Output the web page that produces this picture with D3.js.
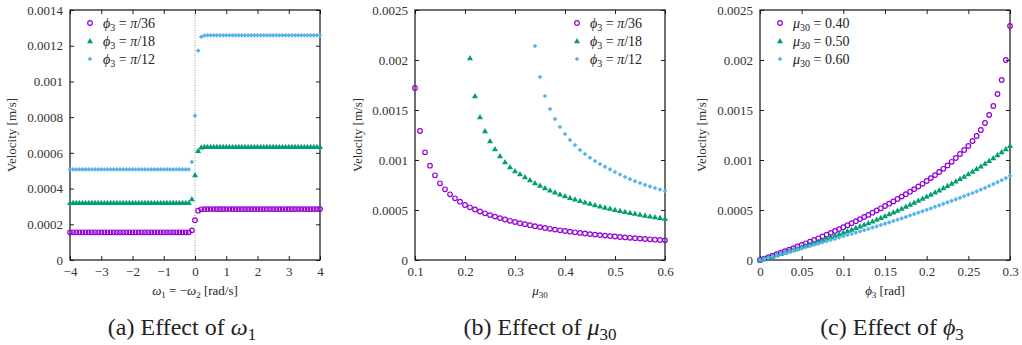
<!DOCTYPE html>
<html>
<head>
<meta charset="utf-8">
<script src="https://cdn.jsdelivr.net/npm/d3@7"></script>
<style>
  body { margin: 0; background: #fff; }
</style>
</head>
<body>
<svg id="chart" width="1022" height="345"></svg>
<script>
// ---- panel (a): effect of omega_1 ----
const omegaA = [
  -4, -3.9, -3.8, -3.7, -3.6, -3.5, -3.4, -3.3, -3.2, -3.1,
  -3, -2.9, -2.8, -2.7, -2.6, -2.5, -2.4, -2.3, -2.2, -2.1,
  -2, -1.9, -1.8, -1.7, -1.6, -1.5, -1.4, -1.3, -1.2, -1.1,
  -1, -0.9, -0.8, -0.7, -0.6, -0.5, -0.4, -0.3, -0.2, -0.1,
  0,
  0.1, 0.2, 0.3, 0.4, 0.5, 0.6, 0.7, 0.8, 0.9, 1,
  1.1, 1.2, 1.3, 1.4, 1.5, 1.6, 1.7, 1.8, 1.9, 2,
  2.1, 2.2, 2.3, 2.4, 2.5, 2.6, 2.7, 2.8, 2.9, 3,
  3.1, 3.2, 3.3, 3.4, 3.5, 3.6, 3.7, 3.8, 3.9, 4
];
const velA_pi36 = [
  1.55e-4, 1.55e-4, 1.55e-4, 1.55e-4, 1.55e-4, 1.55e-4, 1.55e-4, 1.55e-4, 1.55e-4, 1.55e-4,
  1.55e-4, 1.55e-4, 1.55e-4, 1.55e-4, 1.55e-4, 1.55e-4, 1.55e-4, 1.55e-4, 1.55e-4, 1.55e-4,
  1.55e-4, 1.55e-4, 1.55e-4, 1.55e-4, 1.55e-4, 1.55e-4, 1.55e-4, 1.55e-4, 1.55e-4, 1.55e-4,
  1.55e-4, 1.55e-4, 1.55e-4, 1.55e-4, 1.55e-4, 1.55e-4, 1.55e-4, 1.55e-4, 1.55e-4, 1.66e-4,
  2.23e-4,
  2.76e-4, 2.84e-4, 2.85e-4, 2.85e-4, 2.85e-4, 2.85e-4, 2.85e-4, 2.85e-4, 2.85e-4, 2.85e-4,
  2.85e-4, 2.85e-4, 2.85e-4, 2.85e-4, 2.85e-4, 2.85e-4, 2.85e-4, 2.85e-4, 2.85e-4, 2.85e-4,
  2.85e-4, 2.85e-4, 2.85e-4, 2.85e-4, 2.85e-4, 2.85e-4, 2.85e-4, 2.85e-4, 2.85e-4, 2.85e-4,
  2.85e-4, 2.85e-4, 2.85e-4, 2.85e-4, 2.85e-4, 2.85e-4, 2.85e-4, 2.85e-4, 2.85e-4, 2.85e-4
];
const velA_pi18 = [
  3.21e-4, 3.21e-4, 3.21e-4, 3.21e-4, 3.21e-4, 3.21e-4, 3.21e-4, 3.21e-4, 3.21e-4, 3.21e-4,
  3.21e-4, 3.21e-4, 3.21e-4, 3.21e-4, 3.21e-4, 3.21e-4, 3.21e-4, 3.21e-4, 3.21e-4, 3.21e-4,
  3.21e-4, 3.21e-4, 3.21e-4, 3.21e-4, 3.21e-4, 3.21e-4, 3.21e-4, 3.21e-4, 3.21e-4, 3.21e-4,
  3.21e-4, 3.21e-4, 3.21e-4, 3.21e-4, 3.21e-4, 3.21e-4, 3.21e-4, 3.21e-4, 3.21e-4, 3.42e-4,
  4.76e-4,
  6.12e-4, 6.32e-4, 6.34e-4, 6.34e-4, 6.34e-4, 6.34e-4, 6.34e-4, 6.34e-4, 6.34e-4, 6.34e-4,
  6.34e-4, 6.34e-4, 6.34e-4, 6.34e-4, 6.34e-4, 6.34e-4, 6.34e-4, 6.34e-4, 6.34e-4, 6.34e-4,
  6.34e-4, 6.34e-4, 6.34e-4, 6.34e-4, 6.34e-4, 6.34e-4, 6.34e-4, 6.34e-4, 6.34e-4, 6.34e-4,
  6.34e-4, 6.34e-4, 6.34e-4, 6.34e-4, 6.34e-4, 6.34e-4, 6.34e-4, 6.34e-4, 6.34e-4, 6.34e-4
];
const velA_pi12 = [
  5.07e-4, 5.07e-4, 5.07e-4, 5.07e-4, 5.07e-4, 5.07e-4, 5.07e-4, 5.07e-4, 5.07e-4, 5.07e-4,
  5.07e-4, 5.07e-4, 5.07e-4, 5.07e-4, 5.07e-4, 5.07e-4, 5.07e-4, 5.07e-4, 5.07e-4, 5.07e-4,
  5.07e-4, 5.07e-4, 5.07e-4, 5.07e-4, 5.07e-4, 5.07e-4, 5.07e-4, 5.07e-4, 5.07e-4, 5.07e-4,
  5.07e-4, 5.07e-4, 5.07e-4, 5.07e-4, 5.07e-4, 5.07e-4, 5.07e-4, 5.07e-4, 5.07e-4, 5.49e-4,
  8.08e-4,
  1.172e-3, 1.250e-3, 1.257e-3, 1.258e-3, 1.258e-3, 1.258e-3, 1.258e-3, 1.258e-3, 1.258e-3, 1.258e-3,
  1.258e-3, 1.258e-3, 1.258e-3, 1.258e-3, 1.258e-3, 1.258e-3, 1.258e-3, 1.258e-3, 1.258e-3, 1.258e-3,
  1.258e-3, 1.258e-3, 1.258e-3, 1.258e-3, 1.258e-3, 1.258e-3, 1.258e-3, 1.258e-3, 1.258e-3, 1.258e-3,
  1.258e-3, 1.258e-3, 1.258e-3, 1.258e-3, 1.258e-3, 1.258e-3, 1.258e-3, 1.258e-3, 1.258e-3, 1.258e-3
];

// ---- panel (b): effect of mu_30 ----
const muB = [
  0.10, 0.11, 0.12, 0.13, 0.14, 0.15, 0.16, 0.17, 0.18, 0.19,
  0.20, 0.21, 0.22, 0.23, 0.24, 0.25, 0.26, 0.27, 0.28, 0.29,
  0.30, 0.31, 0.32, 0.33, 0.34, 0.35, 0.36, 0.37, 0.38, 0.39,
  0.40, 0.41, 0.42, 0.43, 0.44, 0.45, 0.46, 0.47, 0.48, 0.49,
  0.50, 0.51, 0.52, 0.53, 0.54, 0.55, 0.56, 0.57, 0.58, 0.59,
  0.60
];
const velB_pi36 = [
  1.72e-3, 1.29e-3, 1.077e-3, 9.43e-4, 8.47e-4, 7.67e-4, 7.07e-4, 6.57e-4, 6.17e-4, 5.83e-4,
  5.50e-4, 5.27e-4, 5.05e-4, 4.85e-4, 4.67e-4, 4.49e-4, 4.34e-4, 4.19e-4, 4.05e-4, 3.92e-4,
  3.80e-4, 3.68e-4, 3.58e-4, 3.48e-4, 3.38e-4, 3.29e-4, 3.20e-4, 3.12e-4, 3.04e-4, 2.97e-4,
  2.90e-4, 2.83e-4, 2.77e-4, 2.71e-4, 2.65e-4, 2.59e-4, 2.54e-4, 2.49e-4, 2.44e-4, 2.39e-4,
  2.35e-4, 2.30e-4, 2.26e-4, 2.22e-4, 2.18e-4, 2.14e-4, 2.10e-4, 2.07e-4, 2.03e-4, 2.00e-4,
  1.97e-4
];
const velB_pi18 = [
  null, null, null, null, null, null, null, null, null, null,
  null, 2.02e-3, 1.64e-3, 1.43e-3, 1.29e-3, 1.19e-3, 1.11e-3, 1.04e-3, 9.8e-4, 9.3e-4,
  8.9e-4, 8.6e-4, 8.3e-4, 8.0e-4, 7.7e-4, 7.45e-4, 7.2e-4, 6.98e-4, 6.77e-4, 6.58e-4,
  6.4e-4, 6.23e-4, 6.07e-4, 5.92e-4, 5.78e-4, 5.64e-4, 5.51e-4, 5.38e-4, 5.26e-4, 5.14e-4,
  5.03e-4, 4.93e-4, 4.83e-4, 4.73e-4, 4.64e-4, 4.55e-4, 4.46e-4, 4.38e-4, 4.30e-4, 4.22e-4,
  4.14e-4
];
const velB_pi12 = [
  null, null, null, null, null, null, null, null, null, null,
  null, null, null, null, null, null, null, null, null, null,
  null, null, null, null, 2.14e-3, 1.83e-3, 1.64e-3, 1.51e-3, 1.41e-3, 1.33e-3,
  1.26e-3, 1.20e-3, 1.15e-3, 1.10e-3, 1.06e-3, 1.023e-3, 9.9e-4, 9.6e-4, 9.33e-4, 9.07e-4,
  8.8e-4, 8.55e-4, 8.3e-4, 8.08e-4, 7.88e-4, 7.7e-4, 7.52e-4, 7.36e-4, 7.2e-4, 7.05e-4,
  6.9e-4
];

// ---- panel (c): effect of phi_3 ----
const phiC = [
  0, 0.005, 0.01, 0.015, 0.02, 0.025, 0.03, 0.035, 0.04, 0.045,
  0.05, 0.055, 0.06, 0.065, 0.07, 0.075, 0.08, 0.085, 0.09, 0.095,
  0.1, 0.105, 0.11, 0.115, 0.12, 0.125, 0.13, 0.135, 0.14, 0.145,
  0.15, 0.155, 0.16, 0.165, 0.17, 0.175, 0.18, 0.185, 0.19, 0.195,
  0.2, 0.205, 0.21, 0.215, 0.22, 0.225, 0.23, 0.235, 0.24, 0.245,
  0.25, 0.255, 0.26, 0.265, 0.27, 0.275, 0.28, 0.285, 0.29, 0.295,
  0.3
];
const velC_mu40 = [
  0, 1.45e-5, 2.9e-5, 4.35e-5, 5.8e-5, 7.3e-5, 8.8e-5, 1.03e-4, 1.19e-4, 1.35e-4,
  1.51e-4, 1.67e-4, 1.83e-4, 2.0e-4, 2.17e-4, 2.35e-4, 2.53e-4, 2.71e-4, 2.9e-4, 3.09e-4,
  3.28e-4, 3.48e-4, 3.68e-4, 3.88e-4, 4.09e-4, 4.3e-4, 4.51e-4, 4.73e-4, 4.95e-4, 5.17e-4,
  5.4e-4, 5.63e-4, 5.86e-4, 6.1e-4, 6.34e-4, 6.58e-4, 6.83e-4, 7.09e-4, 7.35e-4, 7.62e-4,
  7.9e-4, 8.19e-4, 8.49e-4, 8.8e-4, 9.12e-4, 9.46e-4, 9.82e-4, 1.02e-3, 1.06e-3, 1.10e-3,
  1.14e-3, 1.19e-3, 1.24e-3, 1.30e-3, 1.37e-3, 1.45e-3, 1.54e-3, 1.66e-3, 1.80e-3, 2.00e-3,
  2.34e-3
];
const velC_mu50 = [
  0, 1.25e-5, 2.5e-5, 3.75e-5, 5.0e-5, 6.3e-5, 7.6e-5, 8.9e-5, 1.02e-4, 1.15e-4,
  1.29e-4, 1.43e-4, 1.57e-4, 1.71e-4, 1.85e-4, 2.0e-4, 2.15e-4, 2.3e-4, 2.45e-4, 2.6e-4,
  2.76e-4, 2.91e-4, 3.06e-4, 3.22e-4, 3.38e-4, 3.54e-4, 3.71e-4, 3.88e-4, 4.05e-4, 4.23e-4,
  4.41e-4, 4.59e-4, 4.77e-4, 4.96e-4, 5.15e-4, 5.34e-4, 5.54e-4, 5.74e-4, 5.94e-4, 6.15e-4,
  6.36e-4, 6.56e-4, 6.77e-4, 6.98e-4, 7.20e-4, 7.42e-4, 7.65e-4, 7.88e-4, 8.12e-4, 8.36e-4,
  8.61e-4, 8.86e-4, 9.12e-4, 9.38e-4, 9.65e-4, 9.93e-4, 1.021e-3, 1.050e-3, 1.080e-3, 1.111e-3,
  1.142e-3
];
const velC_mu60 = [
  0, 1.15e-5, 2.3e-5, 3.45e-5, 4.6e-5, 5.75e-5, 6.9e-5, 8.05e-5, 9.2e-5, 1.04e-4,
  1.16e-4, 1.28e-4, 1.40e-4, 1.52e-4, 1.64e-4, 1.76e-4, 1.88e-4, 2.00e-4, 2.12e-4, 2.25e-4,
  2.38e-4, 2.50e-4, 2.62e-4, 2.74e-4, 2.86e-4, 2.98e-4, 3.11e-4, 3.24e-4, 3.37e-4, 3.50e-4,
  3.63e-4, 3.76e-4, 3.89e-4, 4.03e-4, 4.17e-4, 4.31e-4, 4.45e-4, 4.59e-4, 4.73e-4, 4.87e-4,
  5.02e-4, 5.17e-4, 5.32e-4, 5.47e-4, 5.62e-4, 5.77e-4, 5.92e-4, 6.07e-4, 6.22e-4, 6.38e-4,
  6.54e-4, 6.70e-4, 6.87e-4, 7.04e-4, 7.22e-4, 7.40e-4, 7.59e-4, 7.78e-4, 7.98e-4, 8.19e-4,
  8.42e-4
];

// ---- ticks ----
const xTicksA = [-4, -3, -2, -1, 0, 1, 2, 3, 4];
const yTicksA = [0, 0.0002, 0.0004, 0.0006, 0.0008, 0.001, 0.0012, 0.0014];
const xTicksB = [0.1, 0.2, 0.3, 0.4, 0.5, 0.6];
const yTicksBC = [0, 0.0005, 0.001, 0.0015, 0.002, 0.0025];
const xTicksC = [0, 0.05, 0.1, 0.15, 0.2, 0.25, 0.3];

const PURPLE = "#9400d3", GREEN = "#009e73", BLUE = "#56b4e9";
const FONT = "'Liberation Serif'";
const TOP = 10, BOTTOM = 260;
const fmt = d3.format("~f");

const svg = d3.select("#chart");

// writes text made of parts {t, i: italic, sub: subscript}
function mathText(textSel, parts, fs) {
  const shift = fs * 0.22;
  let low = false;
  textSel.style("font-family", FONT).attr("fill", "#222");
  parts.forEach(p => {
    const ts = textSel.append("tspan").text(p.t);
    if (p.i) ts.attr("font-style", "italic");
    if (p.sub) {
      ts.attr("font-size", Math.round(fs * 0.7));
      if (!low) { ts.attr("dy", shift); low = true; }
    } else if (low) {
      ts.attr("dy", -shift); low = false;
    }
  });
  return textSel;
}

const phiLabel = (rest) => [{t: "\u03D5", i: true}, {t: "3", sub: true}, {t: " = "}, {t: "\u03C0", i: true}, {t: rest}];
const muLabel = (rest) => [{t: "\u03BC", i: true}, {t: "30", sub: true}, {t: " = " + rest}];

const panels = [
  {
    left: 70, right: 320, x: omegaA, xDomain: [-4, 4], yDomain: [0, 0.0014],
    xTicks: xTicksA, yTicks: yTicksA, yLabelX: 16, zeroLine: true,
    legendX: 90,
    series: [
      {vals: velA_pi36, color: PURPLE, shape: "circle", label: phiLabel("/36")},
      {vals: velA_pi18, color: GREEN, shape: "triangle", label: phiLabel("/18")},
      {vals: velA_pi12, color: BLUE, shape: "diamond", label: phiLabel("/12")}
    ],
    xLabel: [{t: "\u03C9", i: true}, {t: "1", sub: true}, {t: " = \u2212"}, {t: "\u03C9", i: true}, {t: "2", sub: true}, {t: " [rad/s]"}],
    caption: [{t: "(a) Effect of "}, {t: "\u03C9", i: true}, {t: "1", sub: true}], captionX: 182
  },
  {
    left: 415, right: 665, x: muB, xDomain: [0.1, 0.6], yDomain: [0, 0.0025],
    xTicks: xTicksB, yTicks: yTicksBC, yLabelX: 362, zeroLine: false,
    legendX: 577,
    series: [
      {vals: velB_pi36, color: PURPLE, shape: "circle", label: phiLabel("/36")},
      {vals: velB_pi18, color: GREEN, shape: "triangle", label: phiLabel("/18")},
      {vals: velB_pi12, color: BLUE, shape: "diamond", label: phiLabel("/12")}
    ],
    xLabel: [{t: "\u03BC", i: true}, {t: "30", sub: true}],
    caption: [{t: "(b) Effect of "}, {t: "\u03BC", i: true}, {t: "30", sub: true}], captionX: 540
  },
  {
    left: 760, right: 1010, x: phiC, xDomain: [0, 0.3], yDomain: [0, 0.0025],
    xTicks: xTicksC, yTicks: yTicksBC, yLabelX: 706, zeroLine: false,
    legendX: 780,
    series: [
      {vals: velC_mu40, color: PURPLE, shape: "circle", label: muLabel("0.40")},
      {vals: velC_mu50, color: GREEN, shape: "triangle", label: muLabel("0.50")},
      {vals: velC_mu60, color: BLUE, shape: "diamond", label: muLabel("0.60")}
    ],
    xLabel: [{t: "\u03D5", i: true}, {t: "3", sub: true}, {t: " [rad]"}],
    caption: [{t: "(c) Effect of "}, {t: "\u03D5", i: true}, {t: "3", sub: true}], captionX: 892
  }
];

function drawMarker(g, shape, color, cx, cy) {
  if (shape === "circle") {
    g.append("circle").attr("cx", cx).attr("cy", cy).attr("r", 2.3)
      .attr("fill", "none").attr("stroke", color).attr("stroke-width", 1.2);
  } else if (shape === "triangle") {
    g.append("path").attr("d", d3.symbol(d3.symbolTriangle, 16)())
      .attr("transform", `translate(${cx},${cy + 0.5})`).attr("fill", color);
  } else {
    g.append("path").attr("d", d3.symbol(d3.symbolSquare, 11)())
      .attr("transform", `translate(${cx},${cy}) rotate(45)`).attr("fill", color);
  }
}

function styleAxis(sel) {
  sel.attr("font-family", null).style("font-family", FONT).attr("font-size", 13);
  sel.select(".domain").remove();
  sel.selectAll("line").attr("stroke", "#222");
  sel.selectAll("text").attr("fill", "#333");
}

panels.forEach(p => {
  const x = d3.scaleLinear().domain(p.xDomain).range([p.left, p.right]);
  const y = d3.scaleLinear().domain(p.yDomain).range([BOTTOM, TOP]);
  const g = svg.append("g");

  if (p.zeroLine) {
    g.append("line").attr("x1", x(0)).attr("x2", x(0)).attr("y1", TOP).attr("y2", BOTTOM)
      .attr("stroke", "#999").attr("stroke-dasharray", "1,1.5");
  }

  // axes with inward ticks on all sides
  g.append("g").attr("transform", `translate(0,${BOTTOM})`)
    .call(d3.axisBottom(x).tickValues(p.xTicks).tickFormat(fmt).tickSizeInner(-4).tickSizeOuter(0).tickPadding(7))
    .call(styleAxis);
  g.append("g").attr("transform", `translate(0,${TOP})`)
    .call(d3.axisTop(x).tickValues(p.xTicks).tickFormat("").tickSizeInner(-4).tickSizeOuter(0))
    .call(styleAxis);
  g.append("g").attr("transform", `translate(${p.left},0)`)
    .call(d3.axisLeft(y).tickValues(p.yTicks).tickFormat(fmt).tickSizeInner(-4).tickSizeOuter(0).tickPadding(7))
    .call(styleAxis);
  g.append("g").attr("transform", `translate(${p.right},0)`)
    .call(d3.axisRight(y).tickValues(p.yTicks).tickFormat("").tickSizeInner(-4).tickSizeOuter(0))
    .call(styleAxis);
  g.append("rect").attr("x", p.left).attr("y", TOP)
    .attr("width", p.right - p.left).attr("height", BOTTOM - TOP)
    .attr("fill", "none").attr("stroke", "#111").attr("stroke-width", 1.2);

  // points
  p.series.forEach(s => {
    const sg = g.append("g");
    p.x.forEach((xv, i) => {
      if (s.vals[i] == null) return;
      drawMarker(sg, s.shape, s.color, x(xv), y(s.vals[i]));
    });
  });

  // legend
  p.series.forEach((s, i) => {
    const cy = 23 + i * 18;
    drawMarker(g, s.shape, s.color, p.legendX, cy);
    mathText(g.append("text").attr("x", p.legendX + 13).attr("y", cy + 4.5)
      .attr("font-size", 14), s.label, 14);
  });

  // axis titles
  g.append("text").attr("transform", `translate(${p.yLabelX},135) rotate(-90)`)
    .style("font-family", FONT).attr("fill", "#333")
    .attr("text-anchor", "middle").attr("font-size", 13).text("Velocity [m/s]");
  mathText(g.append("text").attr("x", (p.left + p.right) / 2).attr("y", 295)
    .attr("text-anchor", "middle").attr("font-size", 13), p.xLabel, 13);

  // caption
  mathText(g.append("text").attr("x", p.captionX).attr("y", 335)
    .attr("text-anchor", "middle").attr("font-size", 24), p.caption, 24);
});
</script>
</body>
</html>
